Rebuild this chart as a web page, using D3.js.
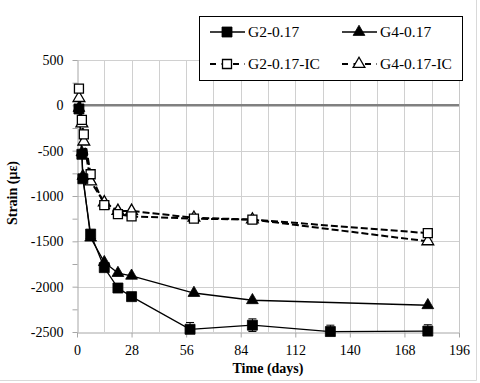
<!DOCTYPE html>
<html><head><meta charset="utf-8">
<script src="https://cdn.jsdelivr.net/npm/d3@7"></script>
<style>body{margin:0;background:#fff}svg{display:block}text{font-family:"Liberation Serif","Times New Roman",serif}</style>
</head><body><svg id="c" width="480" height="383"></svg>
<script>
const seriesNames = ["G2-0.17", "G4-0.17", "G2-0.17-IC", "G4-0.17-IC"];
const g2Days = [1, 2.5, 3, 7, 14, 21, 28, 58, 90, 130, 180];
const g2Strain = [-40, -540, -810, -1420, -1790, -2015, -2110, -2470, -2425, -2495, -2490];
const g2Err = [0, 0, 0, 0, 0, 0, 0, 75, 70, 70, 70];
const g4Days = [1, 2.5, 3, 7, 14, 21, 28, 60, 90, 180];
const g4Strain = [-30, -520, -780, -1460, -1730, -1850, -1880, -2070, -2150, -2205];
const icDays = [1, 2.5, 3.5, 7, 14, 21, 28, 60, 90, 180];
const g2icStrain = [185, -160, -320, -760, -1100, -1200, -1225, -1250, -1260, -1410];
const g4icStrain = [80, -200, -400, -840, -1070, -1165, -1165, -1240, -1260, -1500];
const xTicks = [0, 28, 56, 84, 112, 140, 168, 196];
const yTicks = [500, 0, -500, -1000, -1500, -2000, -2500];

const svg = d3.select("#c");
const L = 77, R = 459, T = 60, B = 332;
const x = d3.scaleLinear().domain([0, 196]).range([L, R]);
const y = d3.scaleLinear().domain([-2500, 500]).range([B, T]);

// outer border (right/bottom visible)
svg.append("line").attr("x1", 476.5).attr("x2", 476.5).attr("y1", 0).attr("y2", 380.5).attr("stroke", "#d9d9d9");
svg.append("line").attr("x1", 0).attr("x2", 476.5).attr("y1", 380.5).attr("y2", 380.5).attr("stroke", "#d9d9d9");

// gridlines
const gx = d3.range(14, 197, 14);
svg.append("g").selectAll("line").data(gx).join("line")
  .attr("x1", d => Math.round(x(d)) + 0.5).attr("x2", d => Math.round(x(d)) + 0.5)
  .attr("y1", T).attr("y2", B).attr("stroke", "#d0d0d0").attr("stroke-width", 1);
svg.append("g").selectAll("line").data(yTicks.filter(v => v !== -2500)).join("line")
  .attr("x1", L).attr("x2", R)
  .attr("y1", d => Math.round(y(d)) + 0.5).attr("y2", d => Math.round(y(d)) + 0.5)
  .attr("stroke", "#d0d0d0").attr("stroke-width", 1);

// axes
const xAxis = d3.axisBottom(x).tickValues(xTicks).tickSize(5).tickSizeOuter(0).tickFormat(d3.format("d"));
const gX = svg.append("g").attr("transform", `translate(0,${Math.round(B) + 0.5})`).call(xAxis);
gX.attr("font-family", null);
gX.select(".domain").attr("stroke", "#a6a6a6");
gX.selectAll(".tick line").attr("stroke", "#a6a6a6");
gX.selectAll("text").attr("font-size", 14).attr("fill", "#000").attr("dy", "1.0em");

const yAxis = d3.axisLeft(y).tickValues(d3.range(-2500, 501, 250)).tickSize(5).tickSizeOuter(0)
  .tickFormat(d => yTicks.includes(d) ? String(d) : "");
const gY = svg.append("g").attr("transform", `translate(${L + 0.5},0)`).call(yAxis);
gY.attr("font-family", null);
gY.select(".domain").attr("stroke", "#a6a6a6");
gY.selectAll(".tick line").attr("stroke", "#a6a6a6");
gY.selectAll("text").attr("font-size", 14).attr("fill", "#000").attr("x", -14);

// right border
svg.append("line").attr("x1", R + 0.5).attr("x2", R + 0.5).attr("y1", T).attr("y2", B).attr("stroke", "#c8c8c8");

// zero line
svg.append("line").attr("x1", L).attr("x2", R).attr("y1", y(0)).attr("y2", y(0))
  .attr("stroke", "#808080").attr("stroke-width", 2.5);

// axis titles
svg.append("text").attr("x", 268).attr("y", 373).attr("text-anchor", "middle")
  .attr("font-size", 14).attr("font-weight", "bold").text("Time (days)");
svg.append("text").attr("transform", "translate(17,193) rotate(-90)").attr("text-anchor", "middle")
  .attr("font-size", 14).attr("font-weight", "bold").text("Strain (με)");

svg.append("clipPath").attr("id", "pc").append("rect")
  .attr("x", L - 8).attr("y", T - 8).attr("width", R - L + 16).attr("height", B - T + 8);
const plot = svg.append("g");

const line = d3.line().x(d => x(d[0])).y(d => y(d[1]));
const zip = (a, b) => a.map((v, i) => [v, b[i]]);

const series = [
  {name: seriesNames[0], pts: zip(g2Days, g2Strain), dash: null, sym: d3.symbolSquare, fill: "#000", size: 100, sw: 1.3},
  {name: seriesNames[1], pts: zip(g4Days, g4Strain), dash: null, sym: d3.symbolTriangle, fill: "#000", size: 60, sw: 1.3},
  {name: seriesNames[2], pts: zip(icDays, g2icStrain), dash: "7,3", sym: d3.symbolSquare, fill: "#fff", size: 81, sw: 2},
  {name: seriesNames[3], pts: zip(icDays, g4icStrain), dash: "7,3", sym: d3.symbolTriangle, fill: "#fff", size: 60, sw: 2}
];

// error bars for G2-0.17
const errG = plot.append("g").attr("clip-path", "url(#pc)");
g2Days.forEach((d, i) => {
  const e = g2Err[i];
  if (!e) return;
  errG.append("line").attr("x1", x(d)).attr("x2", x(d)).attr("y1", y(g2Strain[i] + e)).attr("y2", y(g2Strain[i] - e)).attr("stroke", "#000").attr("stroke-width", 1);
  [1, -1].forEach(s => errG.append("line").attr("x1", x(d) - 4).attr("x2", x(d) + 4)
    .attr("y1", y(g2Strain[i] + s * e)).attr("y2", y(g2Strain[i] + s * e)).attr("stroke", "#000").attr("stroke-width", 1));
});

[3, 2, 1, 0].forEach(k => {
  const s = series[k];
  plot.append("path").datum(s.pts).attr("d", line).attr("fill", "none").attr("stroke", "#000")
    .attr("stroke-width", s.sw).attr("stroke-dasharray", s.dash);
});
[3, 2, 1, 0].forEach(k => {
  const s = series[k];
  plot.append("g").selectAll("path").data(s.pts).join("path")
    .attr("transform", d => `translate(${x(d[0])},${y(d[1])})`)
    .attr("d", d3.symbol().type(s.sym).size(s.size))
    .attr("fill", s.fill).attr("stroke", "#000").attr("stroke-width", s.fill === "#fff" ? 1.3 : 0.8);
});

// legend
const lg = svg.append("g");
lg.append("rect").attr("x", 199.5).attr("y", 16.5).attr("width", 263).attr("height", 64)
  .attr("fill", "#fff").attr("stroke", "#000").attr("stroke-width", 1);
const pos = [[210, 32], [342, 32], [210, 64], [342, 64]];
series.forEach((s, i) => {
  const [lx, ly] = pos[i];
  lg.append("line").attr("x1", lx).attr("x2", lx + 35).attr("y1", ly).attr("y2", ly)
    .attr("stroke", "#000").attr("stroke-width", s.sw).attr("stroke-dasharray", s.dash ? "6,5.5" : null);
  lg.append("path").attr("transform", `translate(${lx + 17},${ly})`)
    .attr("d", d3.symbol().type(s.sym).size(s.size))
    .attr("fill", s.fill).attr("stroke", "#000").attr("stroke-width", s.fill === "#fff" ? 1.3 : 0.8);
  lg.append("text").attr("x", lx + 38).attr("y", ly).attr("dy", "0.35em")
    .attr("font-size", 15.5).text(s.name);
});
</script></body></html>
